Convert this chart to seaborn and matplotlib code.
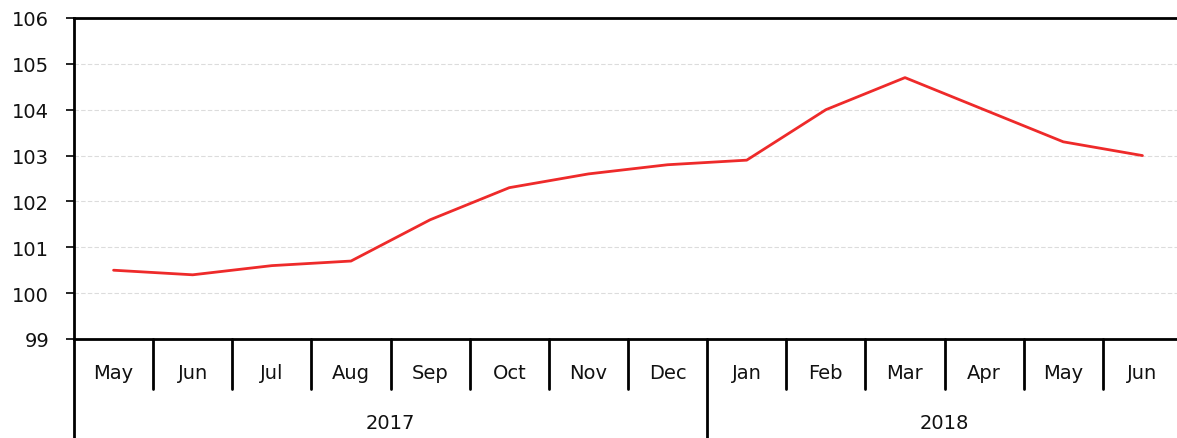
import matplotlib
matplotlib.use("Agg")
import matplotlib.pyplot as plt
import seaborn as sns
import pandas as pd
import numpy as np

months = ["May", "Jun", "Jul", "Aug", "Sep", "Oct", "Nov", "Dec",
          "Jan", "Feb", "Mar", "Apr", "May", "Jun"]
years = ["2017", "2018"]
year_counts = [8, 6]
values = [100.5, 100.4, 100.6, 100.7, 101.6, 102.3, 102.6, 102.8,
          102.9, 104.0, 104.7, 104.0, 103.3, 103.0]

sns.set_theme(style="white")
plt.rcParams['font.family'] = ['DejaVu Sans']

df = pd.DataFrame({"idx": np.arange(len(months)), "value": values})

W, H = 1177, 439
fig = plt.figure(figsize=(W / 100, H / 100), dpi=100)
ax = fig.add_axes([74 / W, 1 - 340 / H, (1182 - 74) / W, (340 - 19) / H])

sns.lineplot(data=df, x="idx", y="value", ax=ax, color="#ee2a2a", linewidth=2)

ax.set_xlim(-0.5, len(months) - 0.5)
ax.set_ylim(99, 106)
ax.set_yticks(range(99, 107))
ax.set_yticklabels([str(v) for v in range(99, 107)], fontsize=14, color="#111111")
ax.tick_params(axis="y", length=6, width=1.2, color="black", direction="out", pad=12, left=True)
ax.set_xticks([])
ax.set_xlabel("")
ax.set_ylabel("")

for y in range(100, 106):
    ax.axhline(y, color="#dcdcdc", linewidth=0.8, linestyle=(0, (4, 2)), zorder=0)

for s in ["left", "top", "bottom"]:
    ax.spines[s].set_visible(True)
    ax.spines[s].set_color("black")
    ax.spines[s].set_linewidth(2)
ax.spines["right"].set_visible(False)

trans = ax.get_xaxis_transform()
axh = 340 - 19
month_sep_y = -50 / axh
year_sep_y = -99 / axh
month_lab_y = -34 / axh
year_lab_y = -84 / axh

for i, m in enumerate(months):
    ax.text(i, month_lab_y, m, transform=trans, ha="center", va="center",
            fontsize=14, color="#111111")

year_bounds = np.cumsum([0] + year_counts)
for i in range(1, len(months)):
    b = i - 0.5
    if i in year_bounds:
        ax.plot([b, b], [0, year_sep_y], transform=trans, color="black",
                linewidth=2, clip_on=False)
    else:
        ax.plot([b, b], [0, month_sep_y], transform=trans, color="black",
                linewidth=2, clip_on=False)
ax.plot([-0.5, -0.5], [0, year_sep_y], transform=trans, color="black",
        linewidth=2, clip_on=False)

for k, yr in enumerate(years):
    center = (year_bounds[k] + year_bounds[k + 1]) / 2 - 0.5
    ax.text(center, year_lab_y, yr, transform=trans, ha="center", va="center",
            fontsize=14, color="#111111")

fig.savefig("out.png", dpi=100)
